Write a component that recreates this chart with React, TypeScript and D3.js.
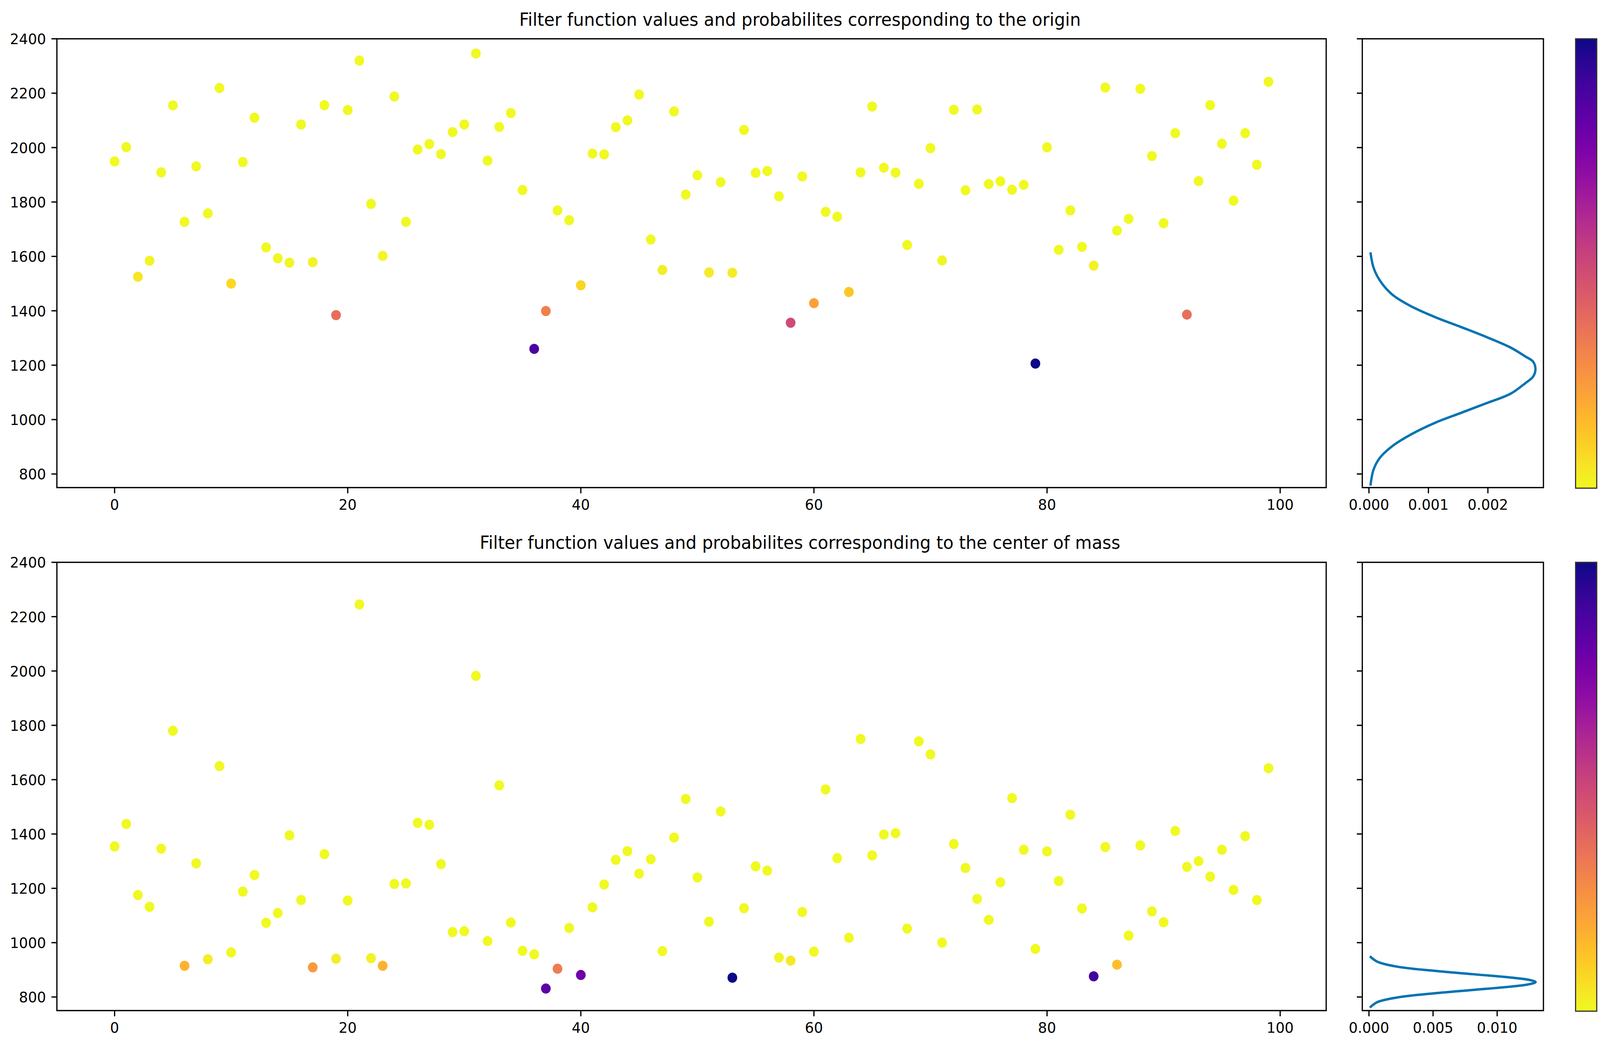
import { useEffect } from 'react';
import * as d3 from 'd3';

// Filter function values, one per sample (index 0..99)
const originValues = [
  1949, 2002, 1525, 1584, 1909, 2155, 1727, 1931, 1758, 2219,
  1500, 1947, 2110, 1633, 1593, 1577, 2085, 1579, 2156, 1384,
  2138, 2320, 1793, 1602, 2188, 1727, 1993, 2013, 1976, 2057,
  2085, 2346, 1952, 2076, 2127, 1844, 1260, 1399, 1769, 1733,
  1494, 1978, 1975, 2075, 2100, 2195, 1662, 1550, 2133, 1827,
  1898, 1541, 1873, 1540, 2065, 1907, 1914, 1821, 1356, 1894,
  1428, 1764, 1746, 1469, 1909, 2151, 1926, 1908, 1642, 1867,
  1998, 1585, 2139, 1843, 2140, 1866, 1876, 1845, 1863, 1206,
  2001, 1624, 1769, 1635, 1566, 2221, 1695, 1738, 2216, 1969,
  1722, 2053, 1386, 1877, 2156, 2014, 1805, 2053, 1937, 2242,
];

const comValues = [
  1354, 1437, 1175, 1132, 1346, 1780, 915, 1292, 939, 1650,
  964, 1188, 1249, 1073, 1109, 1395, 1157, 909, 1326, 941,
  1155, 2245, 943, 915, 1216, 1218, 1441, 1434, 1289, 1039,
  1042, 1982, 1006, 1579, 1074, 970, 957, 831, 904, 1054,
  881, 1130, 1214, 1305, 1337, 1254, 1307, 969, 1387, 1529,
  1240, 1077, 1483, 871, 1127, 1281, 1265, 945, 934, 1113,
  967, 1564, 1311, 1018, 1750, 1321, 1398, 1403, 1052, 1741,
  1693, 1000, 1363, 1275, 1161, 1084, 1222, 1532, 1342, 977,
  1336, 1227, 1471, 1126, 876, 1352, 919, 1026, 1358, 1115,
  1075, 1411, 1279, 1300, 1243, 1342, 1194, 1392, 1157, 1642,
];

// density curves (value, probability)
const originCurveValue = [1615, 1559, 1512, 1460, 1417, 1376, 1341, 1305, 1265, 1232, 1213, 1185, 1158, 1134, 1095, 1059, 1024, 989, 945, 902, 859, 816, 757];
const originCurveDensity = [0.000025, 0.000077, 0.000182, 0.00039, 0.000704, 0.00112, 0.00154, 0.00196, 0.00238, 0.00263, 0.00276, 0.0028, 0.00276, 0.00263, 0.00238, 0.00196, 0.00154, 0.00112, 0.000704, 0.00039, 0.000182, 0.000077, 0.000025];

const comCurveValue = [950, 930, 911, 896, 884, 872, 863, 855, 847, 838, 826, 814, 799, 781, 761];
const comCurveDensity = [0.00007, 0.00065, 0.00229, 0.00519, 0.0081, 0.011, 0.0125, 0.013, 0.0125, 0.011, 0.0081, 0.00519, 0.00229, 0.00065, 0.00007];

const xTicks = [0, 20, 40, 60, 80, 100];
const yTicks = [800, 1000, 1200, 1400, 1600, 1800, 2000, 2200, 2400];
const originDensityTicks = [0, 0.001, 0.002];
const originDensityLabels = ['0.000', '0.001', '0.002'];
const comDensityTicks = [0, 0.005, 0.01];
const comDensityLabels = ['0.000', '0.005', '0.010'];

const W = 4291;
const H = 2683;
const FONT = 'DejaVu Sans, sans-serif';
const TICK_FS = 38;
const TITLE_FS = 46;
const TICK_LEN = 14.6;
const TICK_PAD = 14.6;
const SPINE = 3.33;
const scatterRange: [number, number] = [152.6, 3556.7];
const densityRange: [number, number] = [3653.5, 4139.3];
const cbarRange: [number, number] = [4225.5, 4282.3];

interface RowProps {
  title: string;
  values: number[];
  curveValue: number[];
  curveDensity: number[];
  densityDomain: [number, number];
  densityTicks: number[];
  densityLabels: string[];
  top: number;
  bottom: number;
  titleY: number;
  gradId: string;
}

const Row = ({
  title, values, curveValue, curveDensity, densityDomain,
  densityTicks, densityLabels, top, bottom, titleY, gradId,
}: RowProps) => {
  const x = d3.scaleLinear().domain([-4.95, 103.95]).range(scatterRange);
  const y = d3.scaleLinear().domain([750, 2400]).range([bottom, top]);
  const dx = d3.scaleLinear().domain(densityDomain).range(densityRange);

  // probability of every point, looked up on the density curve
  const probAt = d3.scaleLinear<number>().domain(curveValue).range(curveDensity).clamp(true);
  const probs = values.map((v) => probAt(v));
  const color = d3
    .scaleSequential(d3.interpolatePlasma)
    .domain([d3.max(probs) || 1, d3.min(probs) || 0]);

  const curvePts: [number, number][] = curveValue.map((v, i) => [curveDensity[i], v]);
  const line = d3
    .line<[number, number]>()
    .x((d) => dx(d[0]))
    .y((d) => y(d[1]))
    .curve(d3.curveCatmullRom.alpha(0.5));

  const stops = d3.range(0, 1.0001, 0.05);
  const labelDy = TICK_LEN + TICK_PAD + 28;

  return (
    <g>
      <defs>
        <linearGradient id={gradId} x1="0" y1="0" x2="0" y2="1">
          {stops.map((t) => (
            <stop key={t} offset={t} stopColor={d3.interpolatePlasma(t)} />
          ))}
        </linearGradient>
      </defs>

      <text x={W / 2} y={titleY} textAnchor="middle" fontSize={TITLE_FS} fontFamily={FONT}>
        {title}
      </text>

      {/* scatter panel */}
      {values.map((v, i) => (
        <circle key={i} cx={x(i)} cy={y(v)} r={13} fill={color(probs[i])} />
      ))}
      <rect
        x={scatterRange[0]} y={top}
        width={scatterRange[1] - scatterRange[0]} height={bottom - top}
        fill="none" stroke="#000" strokeWidth={SPINE}
      />
      {xTicks.map((t) => (
        <g key={t}>
          <line x1={x(t)} x2={x(t)} y1={bottom} y2={bottom + TICK_LEN} stroke="#000" strokeWidth={SPINE} />
          <text x={x(t)} y={bottom + labelDy} textAnchor="middle" fontSize={TICK_FS} fontFamily={FONT}>
            {t}
          </text>
        </g>
      ))}
      {yTicks.map((t) => (
        <g key={t}>
          <line x1={scatterRange[0] - TICK_LEN} x2={scatterRange[0]} y1={y(t)} y2={y(t)} stroke="#000" strokeWidth={SPINE} />
          <text x={scatterRange[0] - TICK_LEN - TICK_PAD} y={y(t) + 13.9} textAnchor="end" fontSize={TICK_FS} fontFamily={FONT}>
            {t}
          </text>
        </g>
      ))}

      {/* density panel */}
      <path d={line(curvePts) || ''} fill="none" stroke="#0173b2" strokeWidth={6.25} />
      <rect
        x={densityRange[0]} y={top}
        width={densityRange[1] - densityRange[0]} height={bottom - top}
        fill="none" stroke="#000" strokeWidth={SPINE}
      />
      {yTicks.map((t) => (
        <line key={t} x1={densityRange[0] - TICK_LEN} x2={densityRange[0]} y1={y(t)} y2={y(t)} stroke="#000" strokeWidth={SPINE} />
      ))}
      {densityTicks.map((t, i) => (
        <g key={t}>
          <line x1={dx(t)} x2={dx(t)} y1={bottom} y2={bottom + TICK_LEN} stroke="#000" strokeWidth={SPINE} />
          <text x={dx(t)} y={bottom + labelDy} textAnchor="middle" fontSize={TICK_FS} fontFamily={FONT}>
            {densityLabels[i]}
          </text>
        </g>
      ))}

      {/* colorbar */}
      <rect
        x={cbarRange[0]} y={top}
        width={cbarRange[1] - cbarRange[0]} height={bottom - top + 1.5}
        fill={`url(#${gradId})`} stroke="#333" strokeWidth={3}
      />
    </g>
  );
};

const App = () => {
  useEffect(() => {
    document.body.style.margin = '0';
    document.body.style.overflow = 'hidden';
  }, []);

  return (
    <svg
      viewBox={`0 0 ${W} ${H}`}
      preserveAspectRatio="none"
      style={{ display: 'block', width: '100vw', height: '100vh', background: '#fff' }}
    >
      <rect width={W} height={H} fill="#fff" />
      <Row
        title="Filter function values and probabilites corresponding to the origin"
        values={originValues}
        curveValue={originCurveValue}
        curveDensity={originCurveDensity}
        densityDomain={[-0.000112, 0.002934]}
        densityTicks={originDensityTicks}
        densityLabels={originDensityLabels}
        top={99.3}
        bottom={1248.3}
        titleY={66}
        gradId="cbarTop"
      />
      <Row
        title="Filter function values and probabilites corresponding to the center of mass"
        values={comValues}
        curveValue={comCurveValue}
        curveDensity={comCurveDensity}
        densityDomain={[-0.00052, 0.01361]}
        densityTicks={comDensityTicks}
        densityLabels={comDensityLabels}
        top={1439.6}
        bottom={2587.2}
        titleY={1405}
        gradId="cbarBottom"
      />
    </svg>
  );
};

export default App;
